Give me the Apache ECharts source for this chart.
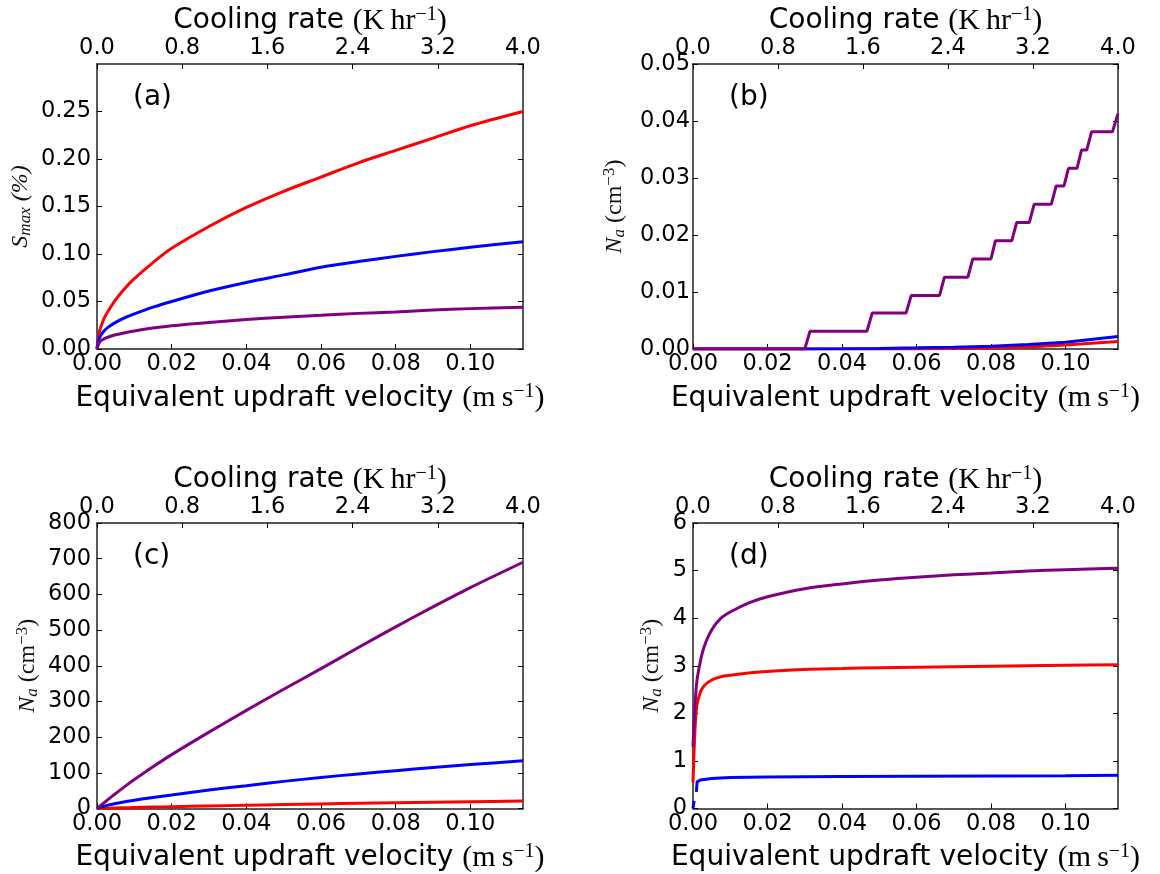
<!DOCTYPE html>
<html>
<head>
<meta charset="utf-8">
<script src="https://cdn.jsdelivr.net/npm/echarts@6/dist/echarts.min.js"></script>
<style>
html,body{margin:0;padding:0;background:#fff;}
#chart{width:1160px;height:874px;}
</style>
</head>
<body>
<div id="chart"></div>
<script>
// ---------------- data ----------------
const velocity = [0, 0.0005, 0.001, 0.002, 0.003, 0.005, 0.0075, 0.01, 0.015, 0.02, 0.03, 0.04, 0.05, 0.06, 0.07, 0.08, 0.09, 0.10, 0.1141];
const velocityMax = 0.1141;
const coolingMax = 4.0;

// (a) S_max (%)
const smaxRed    = [0, 0.016, 0.023, 0.033, 0.040, 0.052, 0.064, 0.074, 0.091, 0.106, 0.129, 0.149, 0.166, 0.181, 0.196, 0.209, 0.222, 0.235, 0.250];
const smaxBlue   = [0, 0.010, 0.0145, 0.0195, 0.023, 0.028, 0.033, 0.037, 0.044, 0.050, 0.061, 0.070, 0.078, 0.086, 0.092, 0.0975, 0.1025, 0.107, 0.113];
const smaxPurple = [0, 0.006, 0.0085, 0.011, 0.0125, 0.015, 0.0172, 0.019, 0.022, 0.0245, 0.028, 0.031, 0.0335, 0.0355, 0.0375, 0.039, 0.041, 0.0425, 0.044];

// (b) N_a (cm^-3)
const naBRed  = [0, 0, 0, 0, 0, 0, 0, 0, 0, 0, 0, 0, 0, 0.00002, 0.00007, 0.00017, 0.00035, 0.0007, 0.0013];
const naBBlue = [0, 0, 0, 0, 0, 0, 0, 0, 0, 0, 0, 0.00003, 0.0001, 0.0002, 0.00032, 0.0005, 0.0008, 0.0012, 0.0022];
const stepVelocity = [0, 0.0300, 0.0314, 0.0467, 0.0481, 0.0572, 0.0586, 0.0662, 0.0675, 0.0738, 0.0751, 0.0800, 0.0812, 0.0856, 0.0869, 0.0903, 0.0916, 0.0962, 0.0975, 0.0996, 0.1008, 0.1031, 0.1043, 0.1057, 0.1070, 0.1126, 0.1141];
const naBPurple    = [0, 0, 0.0031, 0.0031, 0.0063, 0.0063, 0.0094, 0.0094, 0.0126, 0.0126, 0.0158, 0.0158, 0.0190, 0.0190, 0.0222, 0.0222, 0.0254, 0.0254, 0.0286, 0.0286, 0.0317, 0.0317, 0.0349, 0.0349, 0.0381, 0.0381, 0.0413];

// (c) N_a (cm^-3)
const naCRed    = [0, 0.2, 0.4, 0.7, 1.0, 1.5, 2.1, 2.7, 3.9, 5, 7.1, 9, 11, 12.8, 14.5, 16.1, 17.6, 19, 21];
const naCBlue   = [0, 2.5, 4, 7, 9.5, 14, 19, 23, 31, 38, 52, 64, 76, 87, 97, 106, 115, 123, 134];
const naCPurple = [0, 4.3, 8.6, 17, 25.5, 42, 62, 81, 117, 151, 214, 275, 334, 392, 451, 509, 565, 619, 690];

// (d) N_a (cm^-3)
const naDRed    = [0.55, 1.6, 2.15, 2.45, 2.58, 2.70, 2.77, 2.80, 2.85, 2.88, 2.92, 2.94, 2.96, 2.97, 2.98, 2.99, 3.00, 3.01, 3.02];
const naDPurple = [1.3, 2.1, 2.65, 3.1, 3.4, 3.75, 4.0, 4.13, 4.32, 4.45, 4.62, 4.72, 4.80, 4.86, 4.91, 4.95, 4.99, 5.02, 5.05];
const dBlueVelocity = [0, 0.0003, 0.0006, 0.0009, 0.0011, 0.002, 0.005, 0.01, 0.02, 0.04, 0.06, 0.08, 0.10, 0.1141];
const naDBlue       = [0, 0.16, null, 0.35, 0.56, 0.60, 0.63, 0.65, 0.66, 0.67, 0.68, 0.685, 0.69, 0.70];

const panelLetters = ['(a)', '(b)', '(c)', '(d)'];
const colors = { red: '#ff0000', blue: '#0000ff', purple: '#800080' };

// ---------------- styling ----------------
const SANS = "'DejaVu Sans', sans-serif";
const SERIF = "'Liberation Serif', 'DejaVu Serif', serif";
const TICK_FS = 22.5;

const xNameRich = {
  t: { fontFamily: SANS, fontSize: 28, color: '#000' },
  m: { fontFamily: SERIF, fontSize: 30, color: '#000' },
  u: { fontFamily: SERIF, fontSize: 20, color: '#000', padding: [0, 0, 13, 0] }
};
const yNameRich = {
  i: { fontFamily: SERIF, fontSize: 24, fontStyle: 'italic', color: '#111' },
  b: { fontFamily: SERIF, fontSize: 17, fontStyle: 'italic', color: '#111', padding: [10, 0, 0, 0] },
  m: { fontFamily: SERIF, fontSize: 24, color: '#111' },
  u: { fontFamily: SERIF, fontSize: 17, color: '#111', padding: [0, 0, 11, 0] }
};

const grids = [
  { left: 97, top: 64, width: 426, height: 285 },
  { left: 693, top: 64, width: 425, height: 285 },
  { left: 97, top: 523, width: 426, height: 286 },
  { left: 693, top: 523, width: 425, height: 286 }
];

const yConf = [
  { max: 0.30, interval: 0.05, dec: 2, name: '{i|S}{b|max}{i| (%)}', gap: 63, margin: 6, showMax: false },
  { max: 0.05, interval: 0.01, dec: 2, name: '{i|N}{b|a}{m| (cm}{u|−3}{m|)}', gap: 64, margin: 3, showMax: true },
  { max: 800, interval: 100, dec: 0, name: '{i|N}{b|a}{m| (cm}{u|−3}{m|)}', gap: 55, margin: 6, showMax: true },
  { max: 6, interval: 1, dec: 0, name: '{i|N}{b|a}{m| (cm}{u|−3}{m|)}', gap: 27, margin: 6, showMax: true }
];

const axisLine = { show: true, onZero: false, lineStyle: { color: '#222', width: 1.5 } };
const tickStyle = { show: true, inside: true, length: 5, lineStyle: { color: '#000', width: 1 } };

const xAxes = [], yAxes = [], series = [], graphics = [];

grids.forEach((g, i) => {
  xAxes.push({
    gridIndex: i, type: 'value', position: 'bottom', min: 0, max: velocityMax, interval: 0.02,
    axisLine, axisTick: tickStyle, splitLine: { show: false },
    axisLabel: { show: true, color: '#000', fontFamily: SANS, fontSize: TICK_FS, margin: 4, showMaxLabel: false,
      formatter: v => v.toFixed(2) },
    name: '{t|Equivalent updraft velocity }{m|(m\u2009s}{u|−1}{m|)}', nameLocation: 'middle', nameGap: 33,
    nameTextStyle: { rich: xNameRich }
  });
  xAxes.push({
    gridIndex: i, type: 'value', position: 'top', min: 0, max: coolingMax, interval: 0.8,
    axisLine, axisTick: tickStyle, splitLine: { show: false },
    axisLabel: { show: true, color: '#000', fontFamily: SANS, fontSize: TICK_FS, margin: 4,
      formatter: v => v.toFixed(1) },
    name: '{t|Cooling rate }{m|(K\u2009hr}{u|−1}{m|)}', nameLocation: 'middle', nameGap: 26,
    nameTextStyle: { rich: xNameRich }
  });
  const c = yConf[i];
  yAxes.push({
    gridIndex: i, type: 'value', position: 'left', min: 0, max: c.max, interval: c.interval,
    axisLine, axisTick: tickStyle, splitLine: { show: false },
    axisLabel: { show: true, color: '#000', fontFamily: SANS, fontSize: TICK_FS, margin: c.margin,
      showMaxLabel: c.showMax, formatter: v => v.toFixed(c.dec) },
    name: c.name, nameLocation: 'middle', nameGap: c.gap, nameRotate: 90,
    nameTextStyle: { rich: yNameRich }
  });
  yAxes.push({
    gridIndex: i, type: 'value', position: 'right', min: 0, max: c.max, interval: c.interval,
    axisLine, axisTick: tickStyle, splitLine: { show: false }, axisLabel: { show: false }
  });
  graphics.push({
    type: 'text', left: g.left + 36, top: g.top + 20, z: 100,
    style: { text: panelLetters[i], font: '28px ' + SANS, fill: '#000' }
  });
});

function pairs(xs, ys) { return xs.map((x, k) => [x, ys[k]]); }
function addLine(panel, xs, ys, color, smooth) {
  series.push({
    type: 'line', xAxisIndex: panel * 2, yAxisIndex: panel * 2,
    data: pairs(xs, ys), showSymbol: false, symbol: 'none', connectNulls: false,
    smooth: smooth ? 0.3 : false,
    lineStyle: { color, width: 3 }, itemStyle: { color }, animation: false, clip: true
  });
}

addLine(0, velocity, smaxRed, colors.red, true);
addLine(0, velocity, smaxBlue, colors.blue, true);
addLine(0, velocity, smaxPurple, colors.purple, true);

addLine(1, velocity, naBRed, colors.red, false);
addLine(1, velocity, naBBlue, colors.blue, false);
addLine(1, stepVelocity, naBPurple, colors.purple, false);

addLine(2, velocity, naCRed, colors.red, true);
addLine(2, velocity, naCBlue, colors.blue, true);
addLine(2, velocity, naCPurple, colors.purple, true);

addLine(3, velocity, naDRed, colors.red, true);
addLine(3, dBlueVelocity, naDBlue, colors.blue, false);
addLine(3, velocity, naDPurple, colors.purple, true);

const chart = echarts.init(document.getElementById('chart'), null, { renderer: 'canvas' });
chart.setOption({
  backgroundColor: '#fff',
  animation: false,
  grid: grids.map(g => Object.assign({ containLabel: false }, g)),
  xAxis: xAxes,
  yAxis: yAxes,
  series,
  graphic: graphics
});
</script>
</body>
</html>
